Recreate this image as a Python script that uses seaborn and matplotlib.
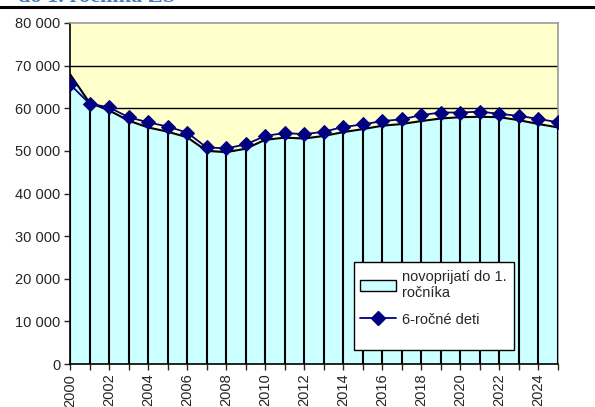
import numpy as np
import pandas as pd
import seaborn as sns
import matplotlib
matplotlib.use("Agg")
import matplotlib.pyplot as plt
from matplotlib.patches import Patch, Rectangle
from matplotlib.lines import Line2D
from matplotlib.ticker import FuncFormatter, MultipleLocator

years = list(range(2000, 2026))
novoprijati = [68000, 61300, 59500, 57100, 55500, 54500, 53200, 50000, 49700, 50500,
               52600, 53100, 52900, 53500, 54400, 55100, 55900, 56300, 57000, 57600,
               57900, 58000, 57900, 57200, 56300, 55500]
deti6 = [65600, 61100, 60200, 57900, 56700, 55700, 54300, 50800, 50600, 51500,
         53500, 54200, 53900, 54500, 55600, 56200, 57000, 57400, 58400, 59000,
         59000, 59200, 58700, 58200, 57500, 56700]
label_area = "novoprijatí do 1.\nročníka"
label_line = "6-ročné deti"
title = "do 1. ročníka ZŠ"

df = pd.DataFrame({"rok": years, "novoprijati": novoprijati, "deti6": deti6})

sns.set_style("white")
plt.rcParams['font.family'] = ['Liberation Sans', 'DejaVu Sans']

W, H = 595, 407
fig = plt.figure(figsize=(W / 100, H / 100), dpi=100)
ax = fig.add_axes([70 / W, 1 - 364 / H, (558 - 70) / W, (364 - 23) / H])
ax.set_facecolor("#FFFFCC")

# gridlines
for v in range(10000, 80000, 10000):
    ax.axhline(v, color="black", lw=1.0, zorder=1)

ax.fill_between(df["rok"], 0, df["novoprijati"], color="#CCFFFF", zorder=2, lw=0)
ax.plot(df["rok"], df["novoprijati"], color="black", lw=1.5, zorder=3)
ax.vlines(df["rok"], 0, df["novoprijati"], color="black", lw=1.5, zorder=3)

sns.lineplot(data=df, x="rok", y="deti6", ax=ax, color="#000080", lw=1.3,
             marker="D", markersize=7, markeredgecolor="#000080", zorder=4)

ax.set_xlim(2000, 2025)
ax.set_ylim(0, 80000)
ax.set_xlabel("")
ax.set_ylabel("")

ax.xaxis.set_minor_locator(MultipleLocator(1))
ax.set_xticks(years[::2])
ax.set_xticklabels([str(y) for y in years[::2]], rotation=90, fontsize=10.5)
ax.set_yticks(range(0, 80001, 10000))
ax.yaxis.set_major_formatter(FuncFormatter(lambda v, p: f"{int(v):,}".replace(",", " ")))
ax.tick_params(axis="y", labelsize=10.5, length=4, width=1, direction="out", left=True, pad=3)
ax.tick_params(axis="x", which="both", length=4, width=1, direction="out", bottom=True, pad=3)

for side in ["left", "bottom"]:
    ax.spines[side].set_color("black")
    ax.spines[side].set_linewidth(1.2)
for side in ["top", "right"]:
    ax.spines[side].set_color("#999999")
    ax.spines[side].set_linewidth(1.2)
    ax.spines[side].set_visible(True)

# legend frame (Excel-style box with extra space at bottom)
def fx(px):
    return (px - 70) / (558 - 70)

def fy(py):
    return (364 - py) / (364 - 23)

frame = Rectangle((fx(354), fy(350)), fx(514) - fx(354), fy(262) - fy(350),
                  transform=ax.transAxes, facecolor="white", edgecolor="black",
                  lw=1.0, zorder=9)
ax.add_patch(frame)

handles = [Patch(facecolor="#CCFFFF", edgecolor="black", lw=1.0),
           Line2D([0], [0], color="#000080", lw=1.3, marker="D", markersize=7)]
leg = ax.legend(handles, [label_area, label_line], loc="upper left",
                bbox_to_anchor=(fx(360), fy(270)), borderaxespad=0, borderpad=0,
                frameon=False, fontsize=10.5, handlelength=2.5,
                labelspacing=0.85, handletextpad=0.4)
leg.set_zorder(10)

# cropped title and rule at top
fig.text(18 / W, 1 - 1.5 / H, title, fontsize=16, fontweight="bold", color="#4A7EC0",
         family="Liberation Serif", va="baseline", ha="left")
fig.add_artist(Line2D([0, 1], [1 - 7 / H, 1 - 7 / H], color="black", lw=2.2,
                      transform=fig.transFigure))

fig.savefig("out.png", dpi=100)
